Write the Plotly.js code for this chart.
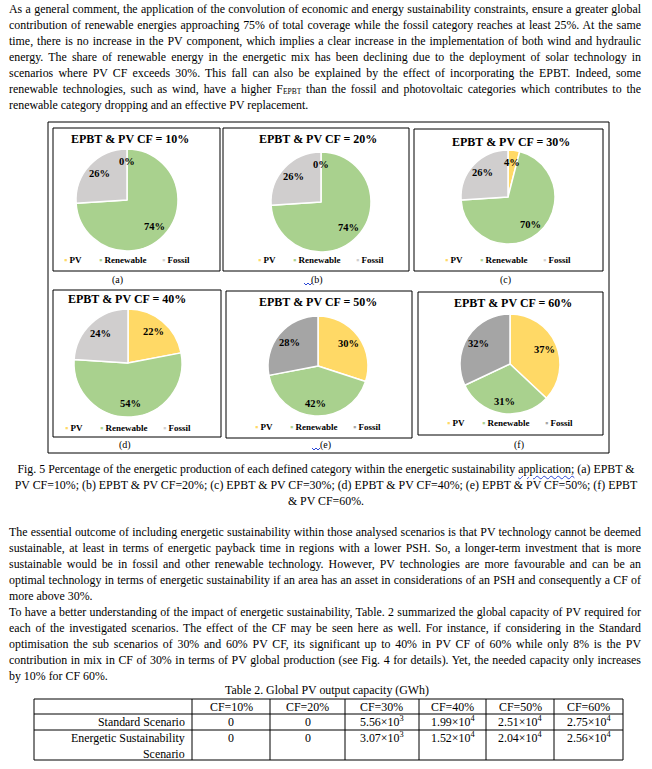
<!DOCTYPE html>
<html><head><meta charset="utf-8">
<script src="https://cdn.plot.ly/plotly-3.0.1.min.js"></script>
<style>
html,body{margin:0;padding:0;background:#fff;}
#page{position:relative;width:652px;height:769px;overflow:hidden;background:#fff;}
#chart{position:absolute;left:0;top:0;width:652px;height:769px;z-index:1;}
.t{position:absolute;font-family:"Liberation Serif","Times New Roman",serif;font-size:11.9px;line-height:16px;height:16px;white-space:nowrap;color:#000;z-index:2;}
.wavy{text-decoration:underline wavy #2b47d6;text-decoration-thickness:1px;text-underline-offset:2px;}
.sub{font-size:7.5px;vertical-align:-1px;}
</style></head>
<body><div id="page"><div id="chart"></div></div>
<script>
// ---------------- data ----------------
const categories = ['PV', 'Renewable', 'Fossil'];
const panelTitles = ['EPBT & PV CF = 10%', 'EPBT & PV CF = 20%', 'EPBT & PV CF = 30%',
                     'EPBT & PV CF = 40%', 'EPBT & PV CF = 50%', 'EPBT & PV CF = 60%'];
const panelLetters = ['(a)', '(b)', '(c)', '(d)', '(e)', '(f)'];
const pvShare = [0, 0, 4, 22, 30, 37];
const renewableShare = [74, 74, 70, 54, 42, 31];
const fossilShare = [26, 26, 26, 24, 28, 32];

const tableTitle = 'Table 2. Global PV output capacity (GWh)';
const tableColumns = ['CF=10%', 'CF=20%', 'CF=30%', 'CF=40%', 'CF=50%', 'CF=60%'];
const tableRowLabels = ['Standard Scenario', 'Energetic Sustainability<br>Scenario'];
const standardScenario = ['0', '0', '5.56×10<sup>3</sup>', '1.99×10<sup>4</sup>', '2.51×10<sup>4</sup>', '2.75×10<sup>4</sup>'];
const energeticScenario = ['0', '0', '3.07×10<sup>3</sup>', '1.52×10<sup>4</sup>', '2.04×10<sup>4</sup>', '2.56×10<sup>4</sup>'];

const para1 = [
 'As a general comment, the application of the convolution of economic and energy sustainability constraints, ensure a greater global',
 'contribution of renewable energies approaching 75% of total coverage while the fossil category reaches at least 25%. At the same',
 'time, there is no increase in the PV component, which implies a clear increase in the implementation of both wind and hydraulic',
 'energy. The share of renewable energy in the energetic mix has been declining due to the deployment of solar technology in',
 'scenarios where PV CF exceeds 30%. This fall can also be explained by the effect of incorporating the EPBT. Indeed, some',
 'renewable technologies, such as wind, have a higher F<span class="sub">EPBT</span> than the fossil and photovoltaic categories which contributes to the',
 'renewable category dropping and an effective PV replacement.'
];
const caption = [
 'Fig. 5 Percentage of the energetic production of each defined category within the energetic sustainability <span class="wavy">application;</span> (a) EPBT &amp;',
 'PV CF=10%; (b) EPBT &amp; PV CF=20%; (c) EPBT &amp; PV CF=30%; (d) EPBT &amp; PV CF=40%; (e) EPBT &amp; PV CF=50%; (f) EPBT',
 '&amp; PV CF=60%.'
];
const para2 = [
 'The essential outcome of including energetic sustainability within those analysed scenarios is that PV technology cannot be deemed',
 'sustainable, at least in terms of energetic payback time in regions with a lower PSH. So, a longer-term investment that is more',
 'sustainable would be in fossil and other renewable technology. However, PV technologies are more favourable and can be an',
 'optimal technology in terms of energetic sustainability if an area has an asset in considerations of an PSH and consequently a CF of',
 'more above 30%.',
 'To have a better understanding of the impact of energetic sustainability, Table. 2 summarized the global capacity of PV required for',
 'each of the investigated scenarios. The effect of the CF may be seen here as well. For instance, if considering in the Standard',
 'optimisation the sub scenarios of 30% and 60% PV CF, its significant up to 40% in PV CF of 60% while only 8% is the PV',
 'contribution in mix in CF of 30% in terms of PV global production (see Fig. 4 for details). Yet, the needed capacity only increases',
 'by 10% for CF 60%.'
];
const para2LastLines = [4, 9];

// ---------------- layout (pixels) ----------------
const W = 652, H = 769;
const px = x => x / W;
const py = y => 1 - y / H;
const SERIF = 'Liberation Serif, Times New Roman, serif';
const colorsLight = ['#FFD966', '#A9D18E', '#D0CECE'];
const colorsDark = ['#FFD966', '#A9D18E', '#A5A5A5'];

const panels = [
 {box:[53,128,220,271], c:[127,200], r:51, title:[130,139], legY:260, letter:[117,280], colors:colorsLight},
 {box:[223,128,409,271], c:[321,202], r:50, title:[318,139], legY:260, letter:[317,280], colors:colorsLight, squiggle:true},
 {box:[414,129,603,271], c:[508,197], r:47, title:[511,142], legY:260, letter:[505,280], colors:colorsLight},
 {box:[53,290,221,437], c:[128,363], r:54, title:[127,299], legY:428, letter:[125,445], colors:colorsLight},
 {box:[226,291,412,438], c:[318,366], r:50, title:[318,302], legY:427, letter:[325,445], colors:colorsDark, squiggle:true},
 {box:[418,292,603,435], c:[510,364], r:50, title:[513,303], legY:423, letter:[519,445], colors:colorsDark}
];
const outerBox = [48,122,609,453];
const legendOffsets = [-63, -28, 35];
const colEdges = [34, 192, 270, 345, 419, 486, 554, 623];
const rowEdges = [699, 714, 730, 760];
const TEXT_SIZE = 11.9;

// ---------------- HTML text ----------------
const page = document.getElementById('page');
const justified = [];
function addLine(html, centerY, mode) {
  const d = document.createElement('div');
  d.className = 't';
  d.innerHTML = html;
  d.style.top = (centerY - 8) + 'px';
  page.appendChild(d);
  if (mode === 'center') {
    d.style.left = '0px'; d.style.width = '652px'; d.style.textAlign = 'center';
  } else {
    d.style.left = '9px';
    if (mode === 'justify') justified.push(d);
  }
}
para1.forEach((s, i) => addLine(s, 9 + 16 * i, i === para1.length - 1 ? 'left' : 'justify'));
caption.forEach((s, i) => addLine(s, 469 + 16 * i, 'center'));
para2.forEach((s, i) => addLine(s, 532 + 16 * i, para2LastLines.includes(i) ? 'left' : 'justify'));
(function(){
  const d = document.createElement('div');
  d.className = 't'; d.textContent = tableTitle;
  d.style.top = (690 - 8) + 'px'; d.style.left = '0px'; d.style.width = '654px'; d.style.textAlign = 'center';
  page.appendChild(d);
})();
let maxW = 0;
justified.forEach(d => { maxW = Math.max(maxW, d.getBoundingClientRect().width); });
if (maxW > 630) {
  const s = TEXT_SIZE * 630 / maxW;
  document.querySelectorAll('.t').forEach(d => { d.style.fontSize = s + 'px'; });
}
justified.forEach(d => {
  d.style.wordSpacing = '0px';
  const w = d.getBoundingClientRect().width;
  const spaces = (d.textContent.match(/ /g) || []).length;
  if (spaces > 0) d.style.wordSpacing = ((632 - w) / spaces) + 'px';
});

// ---------------- Plotly figure ----------------
const traces = [];
const annotations = [];
const shapes = [];

function rectShape(b, w) {
  return {type:'rect', xref:'paper', yref:'paper', x0:px(b[0]), x1:px(b[2]), y0:py(b[3]), y1:py(b[1]),
          line:{color:'#000', width:w || 1}, fillcolor:'rgba(0,0,0,0)'};
}
shapes.push(rectShape(outerBox, 1));

panels.forEach((p, i) => {
  const vals = [pvShare[i], renewableShare[i], fossilShare[i]];
  const [cx, cy] = p.c, r = p.r;
  traces.push({
    type:'pie', labels:categories, values:vals, sort:false, direction:'clockwise', rotation:0,
    textinfo:'none', hoverinfo:'skip', showlegend:false,
    marker:{colors:p.colors, line:{color:'#fff', width:1.5}},
    domain:{x:[px(cx - r), px(cx + r)], y:[py(cy + r), py(cy - r)]}
  });
  shapes.push(rectShape(p.box, 1));
  annotations.push({text:'<b>' + panelTitles[i].replace('&', '&amp;') + '</b>', x:px(p.title[0]), y:py(p.title[1]),
    xref:'paper', yref:'paper', showarrow:false, xanchor:'center', yanchor:'middle',
    font:{family:SERIF, size:12, color:'#000'}});
  const total = vals.reduce((a, b) => a + b, 0);
  let cum = 0;
  vals.forEach((v) => {
    const mid = (cum + v / 2) / total * 2 * Math.PI;
    cum += v;
    const lx = cx + 0.75 * r * Math.sin(mid);
    const ly = cy - 0.75 * r * Math.cos(mid);
    annotations.push({text:'<b>' + Math.round(v / total * 100) + '%</b>', x:px(lx), y:py(ly),
      xref:'paper', yref:'paper', showarrow:false, xanchor:'center', yanchor:'middle',
      font:{family:SERIF, size:10.5, color:'#000'}});
  });
  categories.forEach((name, k) => {
    annotations.push({text:'<span style="color:' + p.colors[k] + '">▪</span> <b>' + name + '</b>',
      x:px(cx + legendOffsets[k] - 2), y:py(p.legY), xref:'paper', yref:'paper', showarrow:false,
      xanchor:'left', yanchor:'middle', font:{family:SERIF, size:9, color:'#000'}});
  });
  annotations.push({text:panelLetters[i], x:px(p.letter[0]), y:py(p.letter[1]), xref:'paper', yref:'paper',
    showarrow:false, xanchor:'center', yanchor:'middle', font:{family:SERIF, size:10, color:'#000'}});
  if (p.squiggle) {
    const x0 = p.letter[0] - 13, y0 = p.letter[1] + 3;
    let path = 'M' + px(x0) + ',' + py(y0);
    for (let k = 1; k <= 4; k++) path += ' L' + px(x0 + 2 * k) + ',' + py(y0 + (k % 2 ? 2 : 0));
    shapes.push({type:'path', xref:'paper', yref:'paper', path:path, line:{color:'#2b47d6', width:1}});
  }
});

// table
rowEdges.forEach(y => shapes.push({type:'line', xref:'paper', yref:'paper', x0:px(colEdges[0]), x1:px(colEdges[colEdges.length-1]), y0:py(y), y1:py(y), line:{color:'#000', width:1}}));
colEdges.forEach(x => shapes.push({type:'line', xref:'paper', yref:'paper', x0:px(x), x1:px(x), y0:py(rowEdges[0]), y1:py(rowEdges[rowEdges.length-1]), line:{color:'#000', width:1}}));
function cellText(text, x, y, anchor) {
  annotations.push({text:text, x:px(x), y:py(y), xref:'paper', yref:'paper', showarrow:false,
    xanchor:anchor, yanchor:'middle', font:{family:SERIF, size:TEXT_SIZE, color:'#000'}});
}
tableColumns.forEach((c, j) => cellText(c, (colEdges[j+1] + colEdges[j+2]) / 2, rowEdges[0] + 7.5, 'center'));
[standardScenario, energeticScenario].forEach((row, i) => {
  const top = rowEdges[i + 1];
  tableRowLabels[i].split('<br>').forEach((ln, k) => cellText(ln, colEdges[1] - 5, top + 7.5 + 16 * k, 'right'));
  row.forEach((v, j) => cellText(v, (colEdges[j+1] + colEdges[j+2]) / 2, top + 7.5, 'center'));
});

Plotly.newPlot('chart', traces, {
  width:W, height:H, margin:{l:0, r:0, t:0, b:0}, paper_bgcolor:'#fff', plot_bgcolor:'#fff',
  showlegend:false, annotations:annotations, shapes:shapes, font:{family:SERIF}
}, {displayModeBar:false, staticPlot:true});
</script></body></html>
